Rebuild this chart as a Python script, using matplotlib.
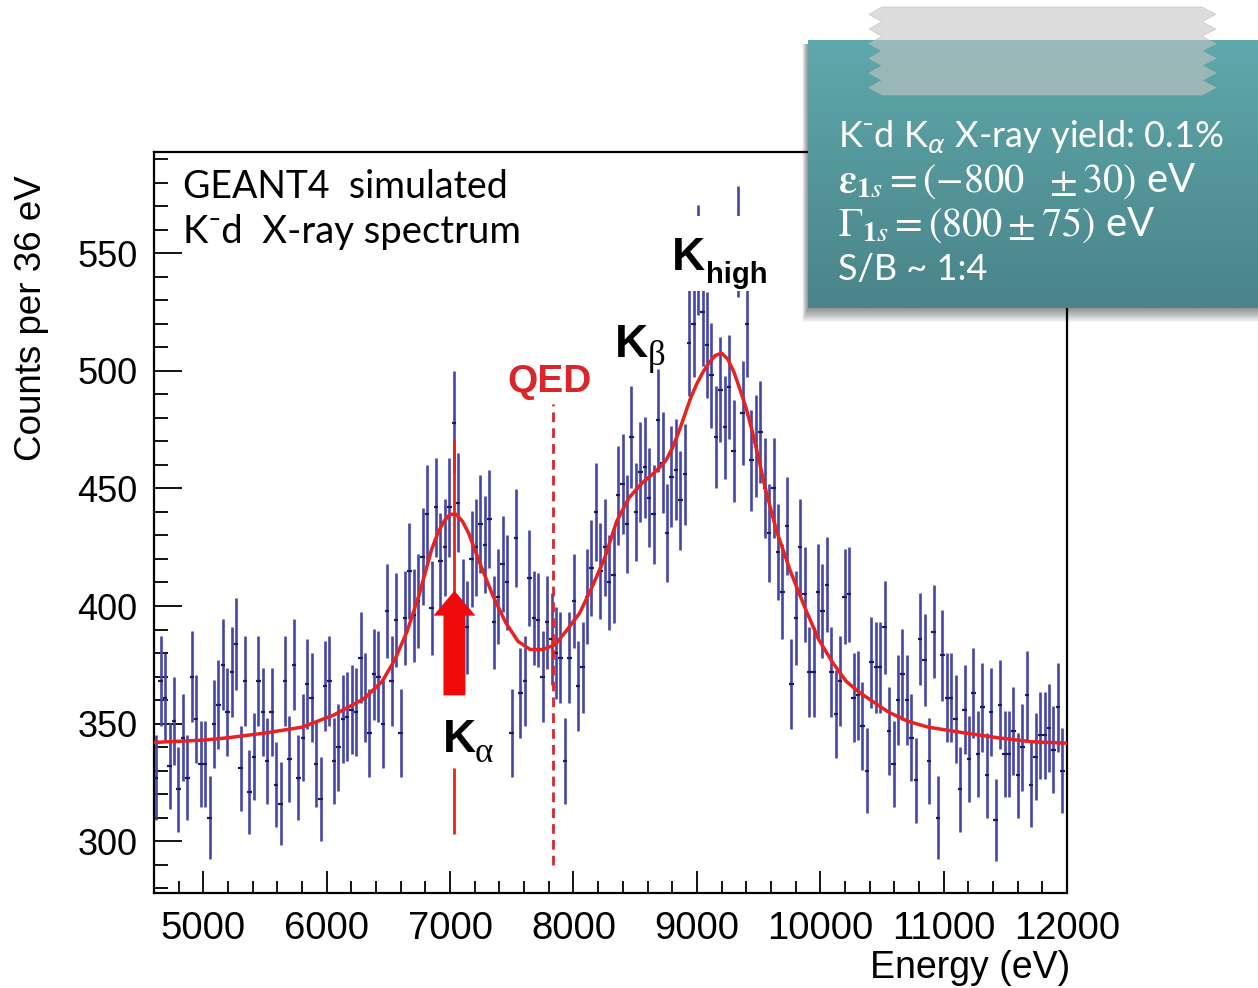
import numpy as np
import matplotlib.pyplot as plt
from matplotlib.patches import Rectangle, Polygon, FancyArrow

# GEANT4 K-d spectrum, 36 eV bins starting at 4600 eV (counts)
bin_start = 4600
bin_width = 36
counts_low = [327, 368, 361, 332, 351, 322, 344, 327, 370, 352, 333, 333, 310, 350, 358, 375, 355, 372,
              384, 331, 368, 321, 336, 368, 355, 334, 355, 324, 316, 368, 335, 375, 327, 344, 367, 361]
counts_rise = [333, 318, 366, 368, 334, 340, 352, 353, 356, 355, 378, 361, 346, 371, 370, 350, 398, 368,
               394, 346, 395, 415, 396, 402, 421, 439, 399, 442, 419, 425, 442]
counts_kalpha = [478, 444, 400, 391, 420, 425, 435, 426, 437, 393, 404, 418, 410, 346, 429, 363, 368, 412,
                 395, 394, 370, 393, 386, 380, 378, 334, 378, 402, 366, 374, 404, 416, 440]
counts_khigh = [415, 425, 410, 413, 447, 452, 435, 472, 440, 457, 459, 446, 439, 479, 461, 431, 455, 458,
                445, 456, 512, 520, 547, 525, 511, 498, 472, 492, 476, 493, 466, 555, 482, 520, 462, 468]
counts_fall = [474, 450, 431, 450, 423, 406, 434, 367, 395, 425, 405, 372, 372, 406, 398, 409, 372, 354,
               368, 404, 405, 361, 362, 349, 330, 376, 374, 374, 391, 347, 333, 360, 371, 360, 344]
counts_tail = [326, 386, 377, 334, 389, 310, 379, 361, 361, 352, 322, 356, 335, 363, 337, 357, 328, 355,
               309, 358, 337, 337, 347, 328, 340, 362, 324, 336, 345, 345, 348, 339, 357, 330]

# fitted curve (red)
fit_energy = [4600, 5000, 5200, 5500, 5800, 6050, 6300, 6450, 6550, 6650, 6750, 6850, 6900, 6950, 7000,
              7050, 7100, 7150, 7250, 7350, 7450, 7550, 7650, 7750, 7850, 7950, 8050, 8150, 8250, 8350,
              8450, 8550, 8650, 8700, 8750, 8800, 8850, 8900, 8950, 9000, 9050, 9100, 9150, 9200, 9250,
              9300, 9350, 9400, 9450, 9500, 9550, 9600, 9645, 9760, 9870, 9985, 10100, 10210, 10325,
              10550, 10710, 10875, 11175, 11440, 11710, 12000]
fit_counts = [342, 343, 344, 346, 348.5, 353.5, 360.5, 368, 377, 389, 405, 424, 431, 436, 439,
              439, 436, 431, 417, 404, 393, 385, 381.5, 381.5, 383.5, 390, 397, 408, 420, 436,
              446, 452, 456.5, 459, 462, 467, 473.5, 481, 488.5, 494.5, 499.5, 503.5, 506.5, 507.5, 505,
              499.5, 492, 484, 474, 463, 451, 441, 432, 414.5, 400, 386, 376, 368, 363,
              355, 351, 348.5, 346, 344, 342.3, 341.7]

x_ticks = [5000, 6000, 7000, 8000, 9000, 10000, 11000, 12000]
y_ticks = [300, 350, 400, 450, 500, 550]

info_lines = [r'K⁻d K$_{\alpha}$ X-ray yield: 0.1%',
              r'$\mathbf{\varepsilon}_{\mathbf{1}s} = (-800\ \ \pm 30)$ eV',
              r'$\Gamma_{\mathbf{1}s} = (800 \pm 75)$ eV',
              'S/B ~ 1:4']

counts = np.array(counts_low + counts_rise + counts_kalpha + counts_khigh + counts_fall + counts_tail,
                  dtype=float)
energy = bin_start + bin_width * (np.arange(len(counts)) + 0.5)
count_err = np.sqrt(counts)

W, H = 1258, 988
arial = ['Liberation Sans', 'DejaVu Sans']
serif = ['Liberation Serif', 'DejaVu Serif']
lato = ['Lato', 'DejaVu Sans']
red = '#e8221e'


def fx(px):
    return px / W


def fy(py):
    return 1 - py / H


fig = plt.figure(figsize=(W / 100, H / 100), dpi=100)
ax = fig.add_axes([fx(154), fy(893), (1067 - 154) / W, (893 - 152) / H])

ax.errorbar(energy, counts, yerr=count_err, fmt='none', ecolor='#4646a8', elinewidth=1.9, zorder=2)
ax.errorbar(energy, counts, xerr=bin_width / 2, fmt='none', ecolor='#1c1c5c', elinewidth=1.6, zorder=3)
ax.plot(fit_energy, fit_counts, color=red, lw=2.5, zorder=4)

ax.set_xlim(4600, 12000)
ax.set_ylim(278, 593)
ax.set_xticks(x_ticks)
ax.set_yticks(y_ticks)
ax.set_xticks(np.arange(4600, 12001, 200), minor=True)
ax.set_yticks(np.arange(280, 591, 10), minor=True)
ax.tick_params(which='both', direction='in', width=1.3, top=False, right=False)
ax.tick_params(axis='x', which='major', length=16, pad=13, labelsize=27.5)
ax.tick_params(axis='x', which='minor', length=9)
ax.tick_params(axis='y', which='major', length=20, pad=12, labelsize=26)
ax.tick_params(axis='y', which='minor', length=10)
for lab in ax.get_xticklabels() + ax.get_yticklabels():
    lab.set_fontfamily(arial)
for sp in ax.spines.values():
    sp.set_linewidth(1.6)

fig.text(fx(32), fy(318), 'Counts per 36 eV', rotation=90, ha='center', va='center',
         fontsize=26.5, family=arial)
fig.text(fx(1070), fy(968), 'Energy (eV)', ha='right', va='center', fontsize=27, family=arial)

fig.text(fx(183), fy(198), 'GEANT4  simulated', fontsize=27, family=lato)
fig.text(fx(183), fy(243), 'K⁻d  X-ray spectrum', fontsize=27.5, family=lato)

# QED line and label
ax.vlines(7830, 290, 486, colors='#d8262a', linestyles=(0, (3.5, 2.2)), lw=2, zorder=5)
ax.text(7809, 491, 'QED', color='#d8262a', fontsize=28, weight='bold', family=arial,
        ha='center', va='baseline', zorder=6)

# K alpha marker
ax.vlines(7035, 303, 331, colors=red, lw=2, zorder=5)
ax.vlines(7035, 396, 470.5, colors=red, lw=2, zorder=5)
ax.add_patch(FancyArrow(7035, 362, 0, 44.5, width=178, head_width=340, head_length=10.6,
                        length_includes_head=True, color='#f00a0a', lw=0, zorder=6))
ax.text(6942, 337.8, 'K', fontsize=33, weight='bold', family=arial, zorder=7)
ax.text(7201, 333.6, 'α', fontsize=25, family=serif, zorder=7)

# K beta / K high labels
ax.text(8336, 505.8, 'K', fontsize=33, weight='bold', family=arial, zorder=7)
ax.text(8603, 502.4, 'β', fontsize=25, family=serif, zorder=7)
ax.add_patch(Rectangle((8790, 534), 810, 32, facecolor='white', edgecolor='none', zorder=6))
ax.text(8798, 542.8, 'K', fontsize=33, weight='bold', family=arial, zorder=7)
ax.text(9073, 537.2, 'high', fontsize=21, weight='bold', family=arial, zorder=7)

# info box: shadow, gradient, tape, text
for s in range(1, 15):
    fig.patches.append(Rectangle((fx(808 - s * 0.4), fy(308 + s)), (1258 - 808 + s) / W, (268 + s - 4) / H,
                                 transform=fig.transFigure, facecolor='black', edgecolor='none',
                                 alpha=0.035, zorder=2))
box_ax = fig.add_axes([fx(808), fy(308), (1258 - 808) / W, (308 - 40) / H], zorder=3)
top_col = np.array([95, 168, 171]) / 255
bot_col = np.array([73, 132, 137]) / 255
t = np.linspace(0, 1, 256)[:, None]
grad = (top_col[None, :] * (1 - t) + bot_col[None, :] * t)[:, None, :]
box_ax.imshow(grad, aspect='auto', extent=[0, 1, 0, 1])
box_ax.axis('off')

tape = []
n_teeth = 6
ys = np.linspace(7, 95, 2 * n_teeth + 1)
for i, y in enumerate(ys):
    tape.append((fx(882 if i % 2 == 0 else 869), fy(y)))
for i, y in enumerate(ys[::-1]):
    tape.append((fx(1202 if i % 2 == 0 else 1216), fy(y)))
fig.patches.append(Polygon(tape, closed=True, transform=fig.transFigure, facecolor='#c5c5c5',
                           edgecolor='#b8b8b8', lw=0.6, alpha=0.6, zorder=4))

line_base = [147, 192, 236, 280]
line_size = [26, 29, 29, 26]
line_math = ['dejavusans', 'stix', 'stix', 'dejavusans']
for txt, yb, sz, mf in zip(info_lines, line_base, line_size, line_math):
    fig.text(fx(838), fy(yb), txt, color='white', fontsize=sz, family=lato, va='baseline',
             math_fontfamily=mf, zorder=5)

fig.savefig('out.png', dpi=100)
